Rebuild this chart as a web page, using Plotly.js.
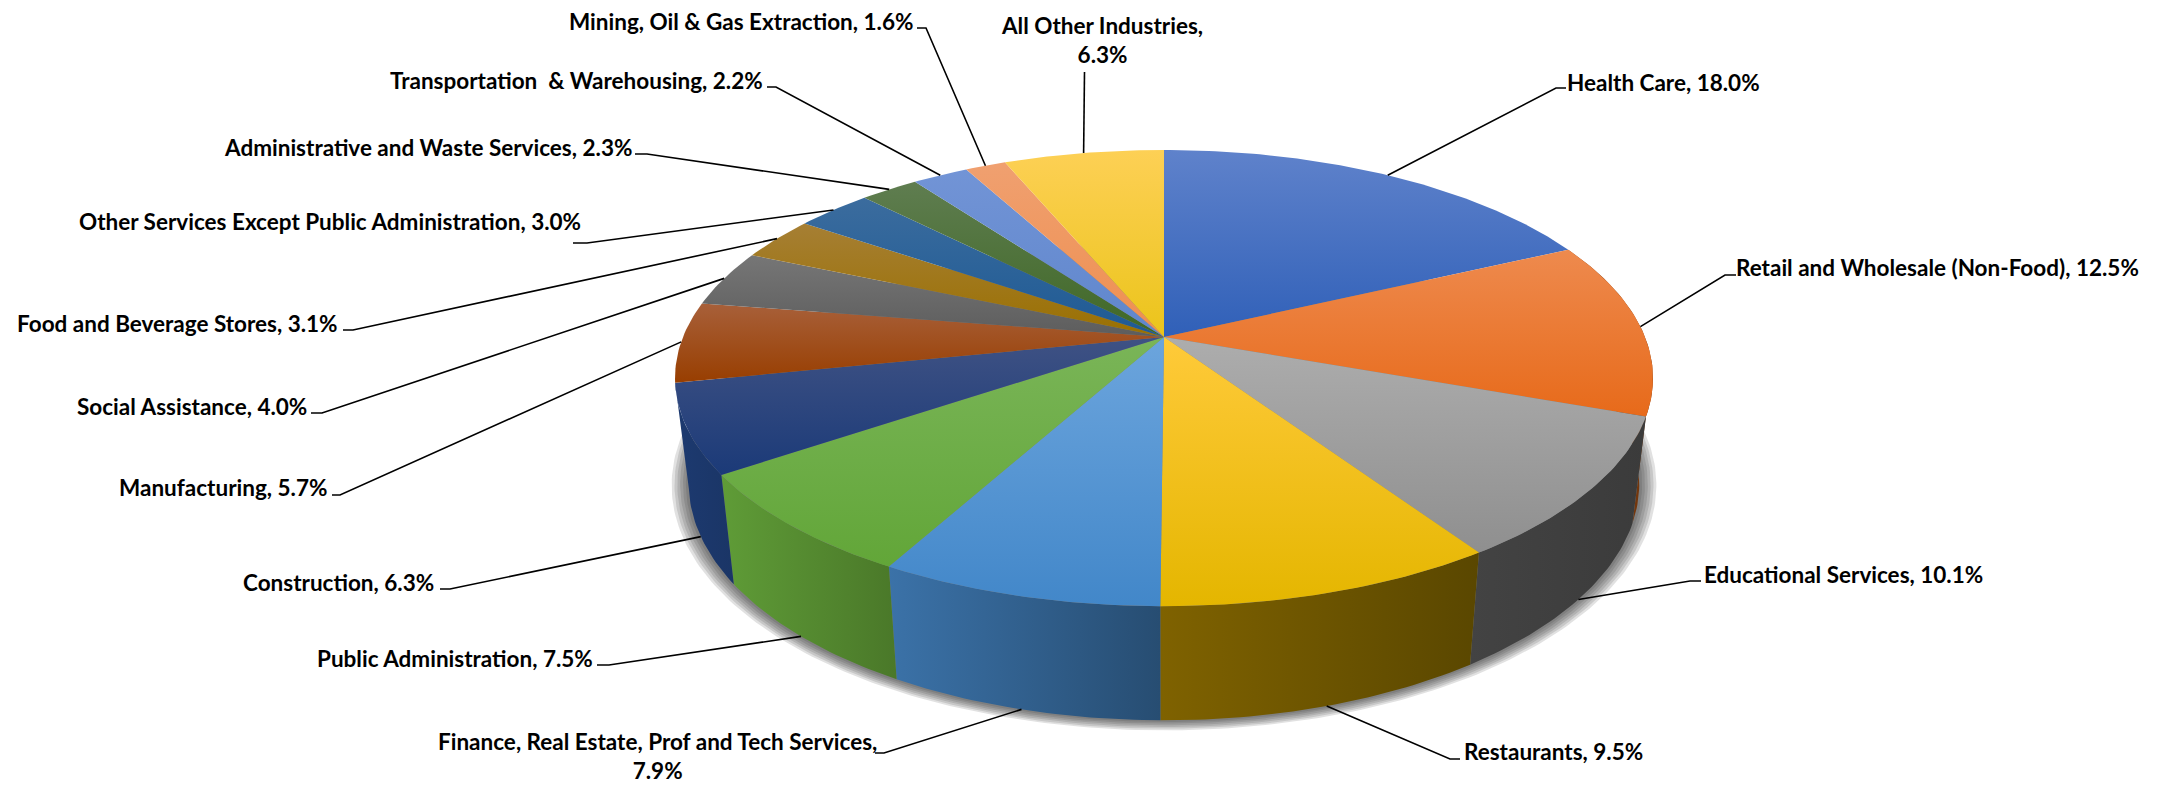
<!DOCTYPE html>
<html>
<head>
<meta charset="utf-8">
<script src="https://cdn.plot.ly/plotly-3.0.1.min.js"></script>
<style>html,body{margin:0;padding:0;background:#fff}#chart{width:2170px;height:787px}</style>
</head>
<body>
<div id="chart"></div>
<script>
// ---- data, in clockwise order from 12 o'clock ----
var categories = ["Health Care","Retail and Wholesale (Non-Food)","Educational Services","Restaurants",
  "Finance, Real Estate, Prof and Tech Services","Public Administration","Construction","Manufacturing",
  "Social Assistance","Food and Beverage Stores","Other Services Except Public Administration",
  "Administrative and Waste Services","Transportation  & Warehousing","Mining, Oil & Gas Extraction","All Other Industries"];
var shares = [18.0,12.5,10.1,9.5,7.9,7.5,6.3,5.7,4.0,3.1,3.0,2.3,2.2,1.6,6.3];

// ---- styles ----
var topLight = ["#5f82cb","#ee8a4e","#adadad","#ffca3a","#6ca5dd","#7ab558","#3f5284","#a8603a","#767676","#a67f34","#3b6c9e","#5f7d50","#7294d6","#f0a070","#fdd055"];
var topDark  = ["#3060b8","#e76a1a","#8f8f8f","#e4b600","#4287c9","#62a638","#1b3a78","#983e00","#5d5d5d","#9a7000","#1e5a94","#3f6826","#5f86cc","#ee8f50","#ebc41a"];
var wallLight= ["#8a4210","#8a4210","#434343","#7f6200","#3b72a8","#5f9c37","#1d3a70"];
var wallDark = ["#6e340c","#6e340c","#3b3b3b","#5a4700","#274d72","#4a7829","#1a3566"];
// wall slices drawn, by index into categories
var wallIdx = [1,2,3,4,5,6];
var wallColorIdx = {1:0,2:2,3:3,4:4,5:5,6:6};

// label text placement (page pixels): x, y, anchor
var labelX = [1565,1734,1702,1462,657,595,436,329,309,340,583,634,765,915,1102];
var labelY = [ 82, 267, 574, 751, 756,658,582,487,406,323,221,147, 80, 21, 40];
var labelA = ["left","left","left","left","center","right","right","right","right","right","right","right","right","right","center"];
var labelBreak = {4:true,14:true};
// leader line: elbow and tick end
var elbowX = [1556,1725,1690,1450,884,609,450,340,322,353,587,647,776,926,1084.5];
var elbowY = [  88, 275, 581, 759,753,665,589,495,413,330,243,154, 87, 28, 72];
var tickX  = [1566,1736,1701,1460,875,597,440,332,311,343,573,635,767,917,1084.5];

// ---- pie geometry (perspective projection of a disc) ----
var CX = 1164, K = 0.18;
var TOP = {x:481, y:220.7, y0:337};
var BOT = {x:467.5, y:229, y0:441};
function proj(pct, g, s){
  s = s || 1;
  var a = pct/100*2*Math.PI, u = Math.sin(a), v = Math.cos(a), d = 1 + K*v;
  return [CX + s*g.x*u/d, g.y0 - s*g.y*v/d];
}
function arc(p0, p1, g, s){
  var n = Math.max(2, Math.ceil((p1-p0)*4)), out = [];
  for (var i=0;i<=n;i++) out.push(proj(p0+(p1-p0)*i/n, g, s));
  return out;
}
var starts = [], acc = 0;
shares.forEach(function(v){ starts.push(acc); acc += v; });

var traces = [];
function poly(pts, extra){
  var t = {type:"scatter",mode:"lines",x:pts.map(function(p){return p[0]}),y:pts.map(function(p){return p[1]}),
    fill:"toself",line:{width:0},hoverinfo:"skip",showlegend:false};
  for (var k in extra) t[k]=extra[k];
  traces.push(t);
}
// soft shadow beneath the disc
[1.036,1.03,1.024,1.018,1.012,1.006].forEach(function(s){
  poly(arc(0,100,BOT,s),{fillcolor:"rgba(40,40,40,0.14)"});
});
// side walls
wallIdx.forEach(function(i){
  var a=starts[i], b=a+shares[i], c=wallColorIdx[i];
  var pts = arc(a,b,TOP).concat(arc(a,b,BOT).reverse());
  poly(pts,{fillgradient:{type:"horizontal",colorscale:[[0,wallLight[c]],[1,wallDark[c]]]}});
});
// top face
shares.forEach(function(v,i){
  var pts = [[CX,TOP.y0]].concat(arc(starts[i],starts[i]+v,TOP));
  poly(pts,{name:categories[i],fillgradient:{type:"vertical",colorscale:[[0,topDark[i]],[1,topLight[i]]]}});
});
// leader lines and labels
var annotations = [];
shares.forEach(function(v,i){
  var mid = starts[i]+v/2;
  var onWall = mid>27 && mid<72;
  var a = proj(mid, onWall?BOT:TOP);
  traces.push({type:"scatter",mode:"lines",x:[a[0],elbowX[i],tickX[i]],y:[a[1],elbowY[i],elbowY[i]],
    line:{color:"#000",width:1.6},hoverinfo:"skip",showlegend:false});
  var txt = labelBreak[i] ? categories[i]+",<br>"+v.toFixed(1)+"%" : categories[i]+", "+v.toFixed(1)+"%";
  annotations.push({x:labelX[i],y:labelY[i],xref:"x",yref:"y",text:txt,showarrow:false,
    xanchor:labelA[i],yanchor:"middle",align:"center",
    font:{family:"Lato,'Liberation Sans',sans-serif",size:22.5,color:"#000",weight:700}});
});

Plotly.newPlot("chart",traces,{
  width:2170,height:787,margin:{l:0,r:0,t:0,b:0},
  paper_bgcolor:"#fff",plot_bgcolor:"#fff",showlegend:false,
  xaxis:{range:[0,2170],visible:false,fixedrange:true},
  yaxis:{range:[787,0],visible:false,fixedrange:true},
  annotations:annotations
},{displayModeBar:false,staticPlot:true});
</script>
</body>
</html>
